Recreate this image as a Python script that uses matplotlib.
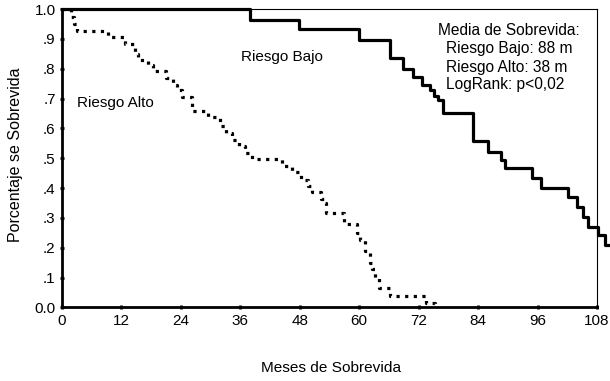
import numpy as np
import matplotlib
matplotlib.use("Agg")
import matplotlib.pyplot as plt

# Kaplan-Meier steps: (time in months, survival after step)
bajo_t = [0, 38.0, 47.8, 60.0, 66.2, 68.8, 70.8, 72.6, 74.3, 75.2, 76.0, 76.9,
          83.0, 86.0, 88.7, 89.5, 94.8, 96.8, 102.2, 103.9, 105.2, 106.2,
          108.2, 109.6]
bajo_s = [1.0, 0.963, 0.932, 0.897, 0.835, 0.801, 0.773, 0.745, 0.728, 0.71,
          0.695, 0.651, 0.559, 0.52, 0.494, 0.466, 0.433, 0.399, 0.37, 0.338,
          0.304, 0.271, 0.243, 0.209]
bajo_end = 110.6

alto_t = [0, 1.9, 2.4, 3.0, 9.2, 12.8, 14.8, 15.4, 17.4, 18.4, 21.0, 22.4,
          23.3, 24.3, 26.3, 29.4, 32.0, 33.2, 34.4, 35.8, 37.0, 38.3, 44.4,
          46.4, 48.3, 49.6, 50.4, 52.2, 52.8, 53.3, 57.0, 59.6, 60.2, 61.2,
          62.1, 62.6, 63.2, 64.0, 66.2, 73.4, 75.3]
alto_s = [1.0, 0.975, 0.95, 0.928, 0.907, 0.882, 0.848, 0.83, 0.812, 0.792,
          0.768, 0.745, 0.728, 0.706, 0.66, 0.638, 0.608, 0.586, 0.562, 0.54,
          0.518, 0.497, 0.475, 0.453, 0.428, 0.408, 0.386, 0.364, 0.349,
          0.318, 0.28, 0.25, 0.226, 0.19, 0.15, 0.13, 0.1, 0.065, 0.04,
          0.016, 0.008]
alto_end = 75.6

x_ticks = [0, 12, 24, 36, 48, 60, 72, 84, 96, 108]
y_ticks = [0.0, 0.1, 0.2, 0.3, 0.4, 0.5, 0.6, 0.7, 0.8, 0.9, 1.0]
y_labels = ["0.0", ".1", ".2", ".3", ".4", ".5", ".6", ".7", ".8", ".9", "1.0"]

plt.rcParams["font.family"] = ["Liberation Sans", "DejaVu Sans"]

fig = plt.figure(figsize=(6.1, 3.81), dpi=100)
ax = fig.add_axes([0.1016, 0.193, 0.877, 0.783])

ax.step(bajo_t + [bajo_end], bajo_s + [bajo_s[-1]], where="post",
        color="black", lw=2.3, clip_on=False, zorder=3)
ax.step(alto_t + [alto_end], alto_s + [alto_s[-1]], where="post",
        color="black", lw=2.3, linestyle=(0, (1, 1.7)),
        dash_capstyle="butt", zorder=3)

ax.set_xlim(0, 108)
ax.set_ylim(0, 1.0)
ax.set_xticks(x_ticks)
ax.set_yticks(y_ticks)
ax.set_yticklabels(y_labels)
ax.tick_params(direction="inout", length=3, width=2, labelsize=11, pad=3)

for side in ["left", "bottom"]:
    ax.spines[side].set_linewidth(2.0)
for side in ["top", "right"]:
    ax.spines[side].set_linewidth(0.8)

ax.text(36.1, 0.84, "Riesgo Bajo", fontsize=11, va="center")
ax.text(3.0, 0.685, "Riesgo Alto", fontsize=11, va="center")
ax.text(76.0, 0.93, "Media de Sobrevida:", fontsize=11.2, va="center")
ax.text(77.5, 0.867, "Riesgo Bajo: 88 m", fontsize=11.2, va="center")
ax.text(77.5, 0.805, "Riesgo Alto: 38 m", fontsize=11.2, va="center")
ax.text(77.5, 0.748, "LogRank: p<0,02", fontsize=11.2, va="center")

fig.text(0.025, 0.593, "Porcentaje se Sobrevida", rotation=90,
         fontsize=11.5, ha="center", va="center")
fig.text(0.543, 0.034, "Meses de Sobrevida", fontsize=11.1,
         ha="center", va="center")

fig.savefig("out.png", dpi=100)
